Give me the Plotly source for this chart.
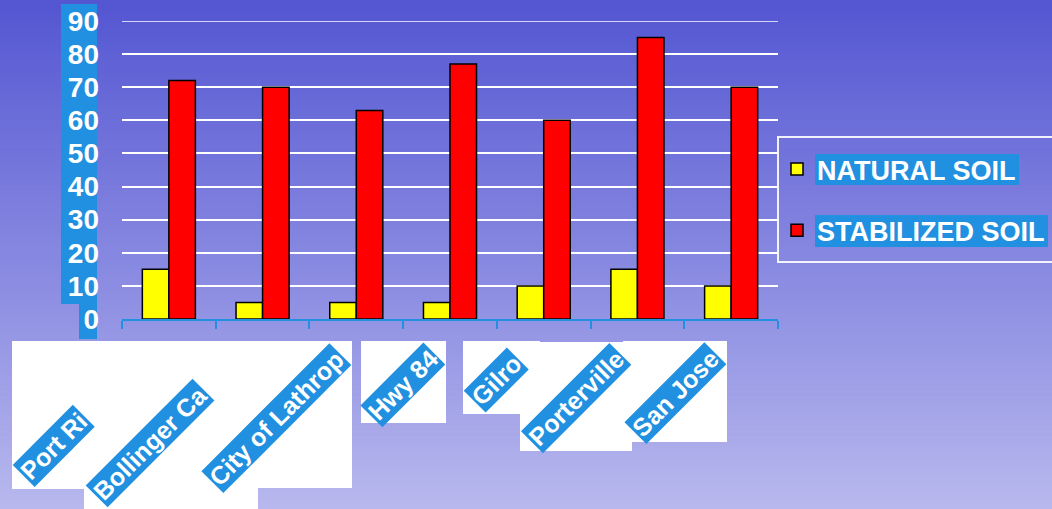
import plotly.graph_objects as go

# ---------------- data ----------------
categories = ["Port Ri", "Bollinger Ca", "City of Lathrop", "Hwy 84", "Gilro", "Porterville", "San Jose"]
natural_soil = [15, 5, 5, 5, 10, 15, 10]
stabilized_soil = [72, 70, 63, 77, 60, 85, 70]
series_names = ["NATURAL SOIL", "STABILIZED SOIL"]
y_ticks = [0, 10, 20, 30, 40, 50, 60, 70, 80, 90]

# ---------------- geometry helpers ----------------
W, H = 1052, 509
PL, PR, PT, PB = 122, 778, 21, 319  # plot area in pixels


def px(x):
    return (x - PL) / (PR - PL)


def py(y):
    return (PB - y) / (PB - PT)


BLUE = "#2190E0"
FONT = "Liberation Sans, Arial, sans-serif"

fig = go.Figure()
fig.add_trace(go.Bar(
    x=categories, y=natural_soil, name=series_names[0], legendgroup="a",
    marker=dict(color="#FFFF00", line=dict(color="black", width=1.5)),
))
fig.add_trace(go.Bar(
    x=categories, y=stabilized_soil, name=series_names[1], legendgroup="b",
    marker=dict(color="#FF0000", line=dict(color="black", width=1.5)),
))

shapes = []
# gradient background
top = (84, 86, 210)
bot = (184, 184, 238)
N = 102
for i in range(N):
    y0 = i * H / N
    y1 = (i + 1) * H / N + 0.6
    t = (i + 0.5) / N
    c = tuple(round(top[k] + (bot[k] - top[k]) * t) for k in range(3))
    shapes.append(dict(type="rect", xref="paper", yref="paper", layer="below",
                       x0=px(0), x1=px(W), y0=py(y1), y1=py(y0),
                       line=dict(width=0), fillcolor="rgb(%d,%d,%d)" % c))

# blue backgrounds behind y tick labels
for (x0, y0, x1, y1) in [(61, 4, 97, 304), (79, 304, 97, 339)]:
    shapes.append(dict(type="rect", xref="paper", yref="paper", layer="below",
                       x0=px(x0), x1=px(x1), y0=py(y1), y1=py(y0),
                       line=dict(width=0), fillcolor=BLUE))

# white boxes behind the category labels
for (x0, y0, x1, y1) in [(12, 341, 85, 489), (84, 341, 258, 512), (201, 341, 352, 488),
                         (361, 341, 446, 423), (463, 341, 540, 414), (520, 342, 632, 451),
                         (623, 341, 727, 442)]:
    shapes.append(dict(type="rect", xref="paper", yref="paper", layer="below",
                       x0=px(x0), x1=px(x1), y0=py(y1), y1=py(y0),
                       line=dict(width=0), fillcolor="white"))

# top gridline (edge of the value axis)
shapes.append(dict(type="line", xref="paper", yref="y", layer="below",
                   x0=0, x1=1, y0=90, y1=90, line=dict(color="white", width=1.5)))

# legend frame and text highlights
shapes.append(dict(type="rect", xref="paper", yref="paper", layer="above",
                   x0=px(778), x1=px(1064), y0=py(262), y1=py(137),
                   line=dict(color="rgba(255,255,255,0.9)", width=2), fillcolor="rgba(0,0,0,0)"))
for (x0, y0, x1, y1) in [(815, 154, 1019, 185), (815, 215, 1048, 247)]:
    shapes.append(dict(type="rect", xref="paper", yref="paper", layer="above",
                       x0=px(x0), x1=px(x1), y0=py(y1), y1=py(y0),
                       line=dict(width=0), fillcolor=BLUE))

# category labels (rotated, white on blue)
annotations = []
label_pos = [
    ("left", "bottom", 12, 488),
    ("left", "bottom", 85, 508),
    ("right", "top", 352, 342),
    ("right", "top", 446, 342),
    ("left", "bottom", 463, 413),
    ("right", "top", 632, 342),
    ("right", "top", 727, 341),
]
for cat, (xa, ya, x, y) in zip(categories, label_pos):
    annotations.append(dict(
        text=cat, xref="paper", yref="paper", x=px(x), y=py(y),
        xanchor=xa, yanchor=ya, textangle=-45, showarrow=False,
        bgcolor=BLUE, borderpad=1,
        font=dict(family=FONT, size=25, color="white", weight="bold"),
    ))

fig.update_layout(
    width=W, height=H,
    margin=dict(l=PL, r=W - PR, t=PT, b=H - PB, autoexpand=False),
    paper_bgcolor="#8a8ade", plot_bgcolor="rgba(0,0,0,0)",
    barmode="group", bargap=0.434, bargroupgap=0,
    shapes=shapes, annotations=annotations,
    showlegend=True,
    legend=dict(
        x=px(777), xanchor="left", y=py(145), yanchor="top",
        bgcolor="rgba(0,0,0,0)", borderwidth=0,
        traceorder="grouped", tracegroupgap=23,
        font=dict(family=FONT, size=27, color="white", weight="bold"),
    ),
    xaxis=dict(
        showticklabels=False, showgrid=False, zeroline=False,
        showline=True, linecolor=BLUE, linewidth=2,
        ticks="outside", ticklen=8, tickwidth=2, tickcolor=BLUE,
        tickson="boundaries", range=[-0.5, 6.5],
    ),
    yaxis=dict(
        range=[0, 90], tickvals=y_ticks, showgrid=True, gridcolor="white", gridwidth=1.5,
        zeroline=False, showline=False, ticks="",
        ticklabelstandoff=22,
        tickfont=dict(family=FONT, size=28, color="white", weight="bold"),
    ),
)

fig.write_html("out.html")
